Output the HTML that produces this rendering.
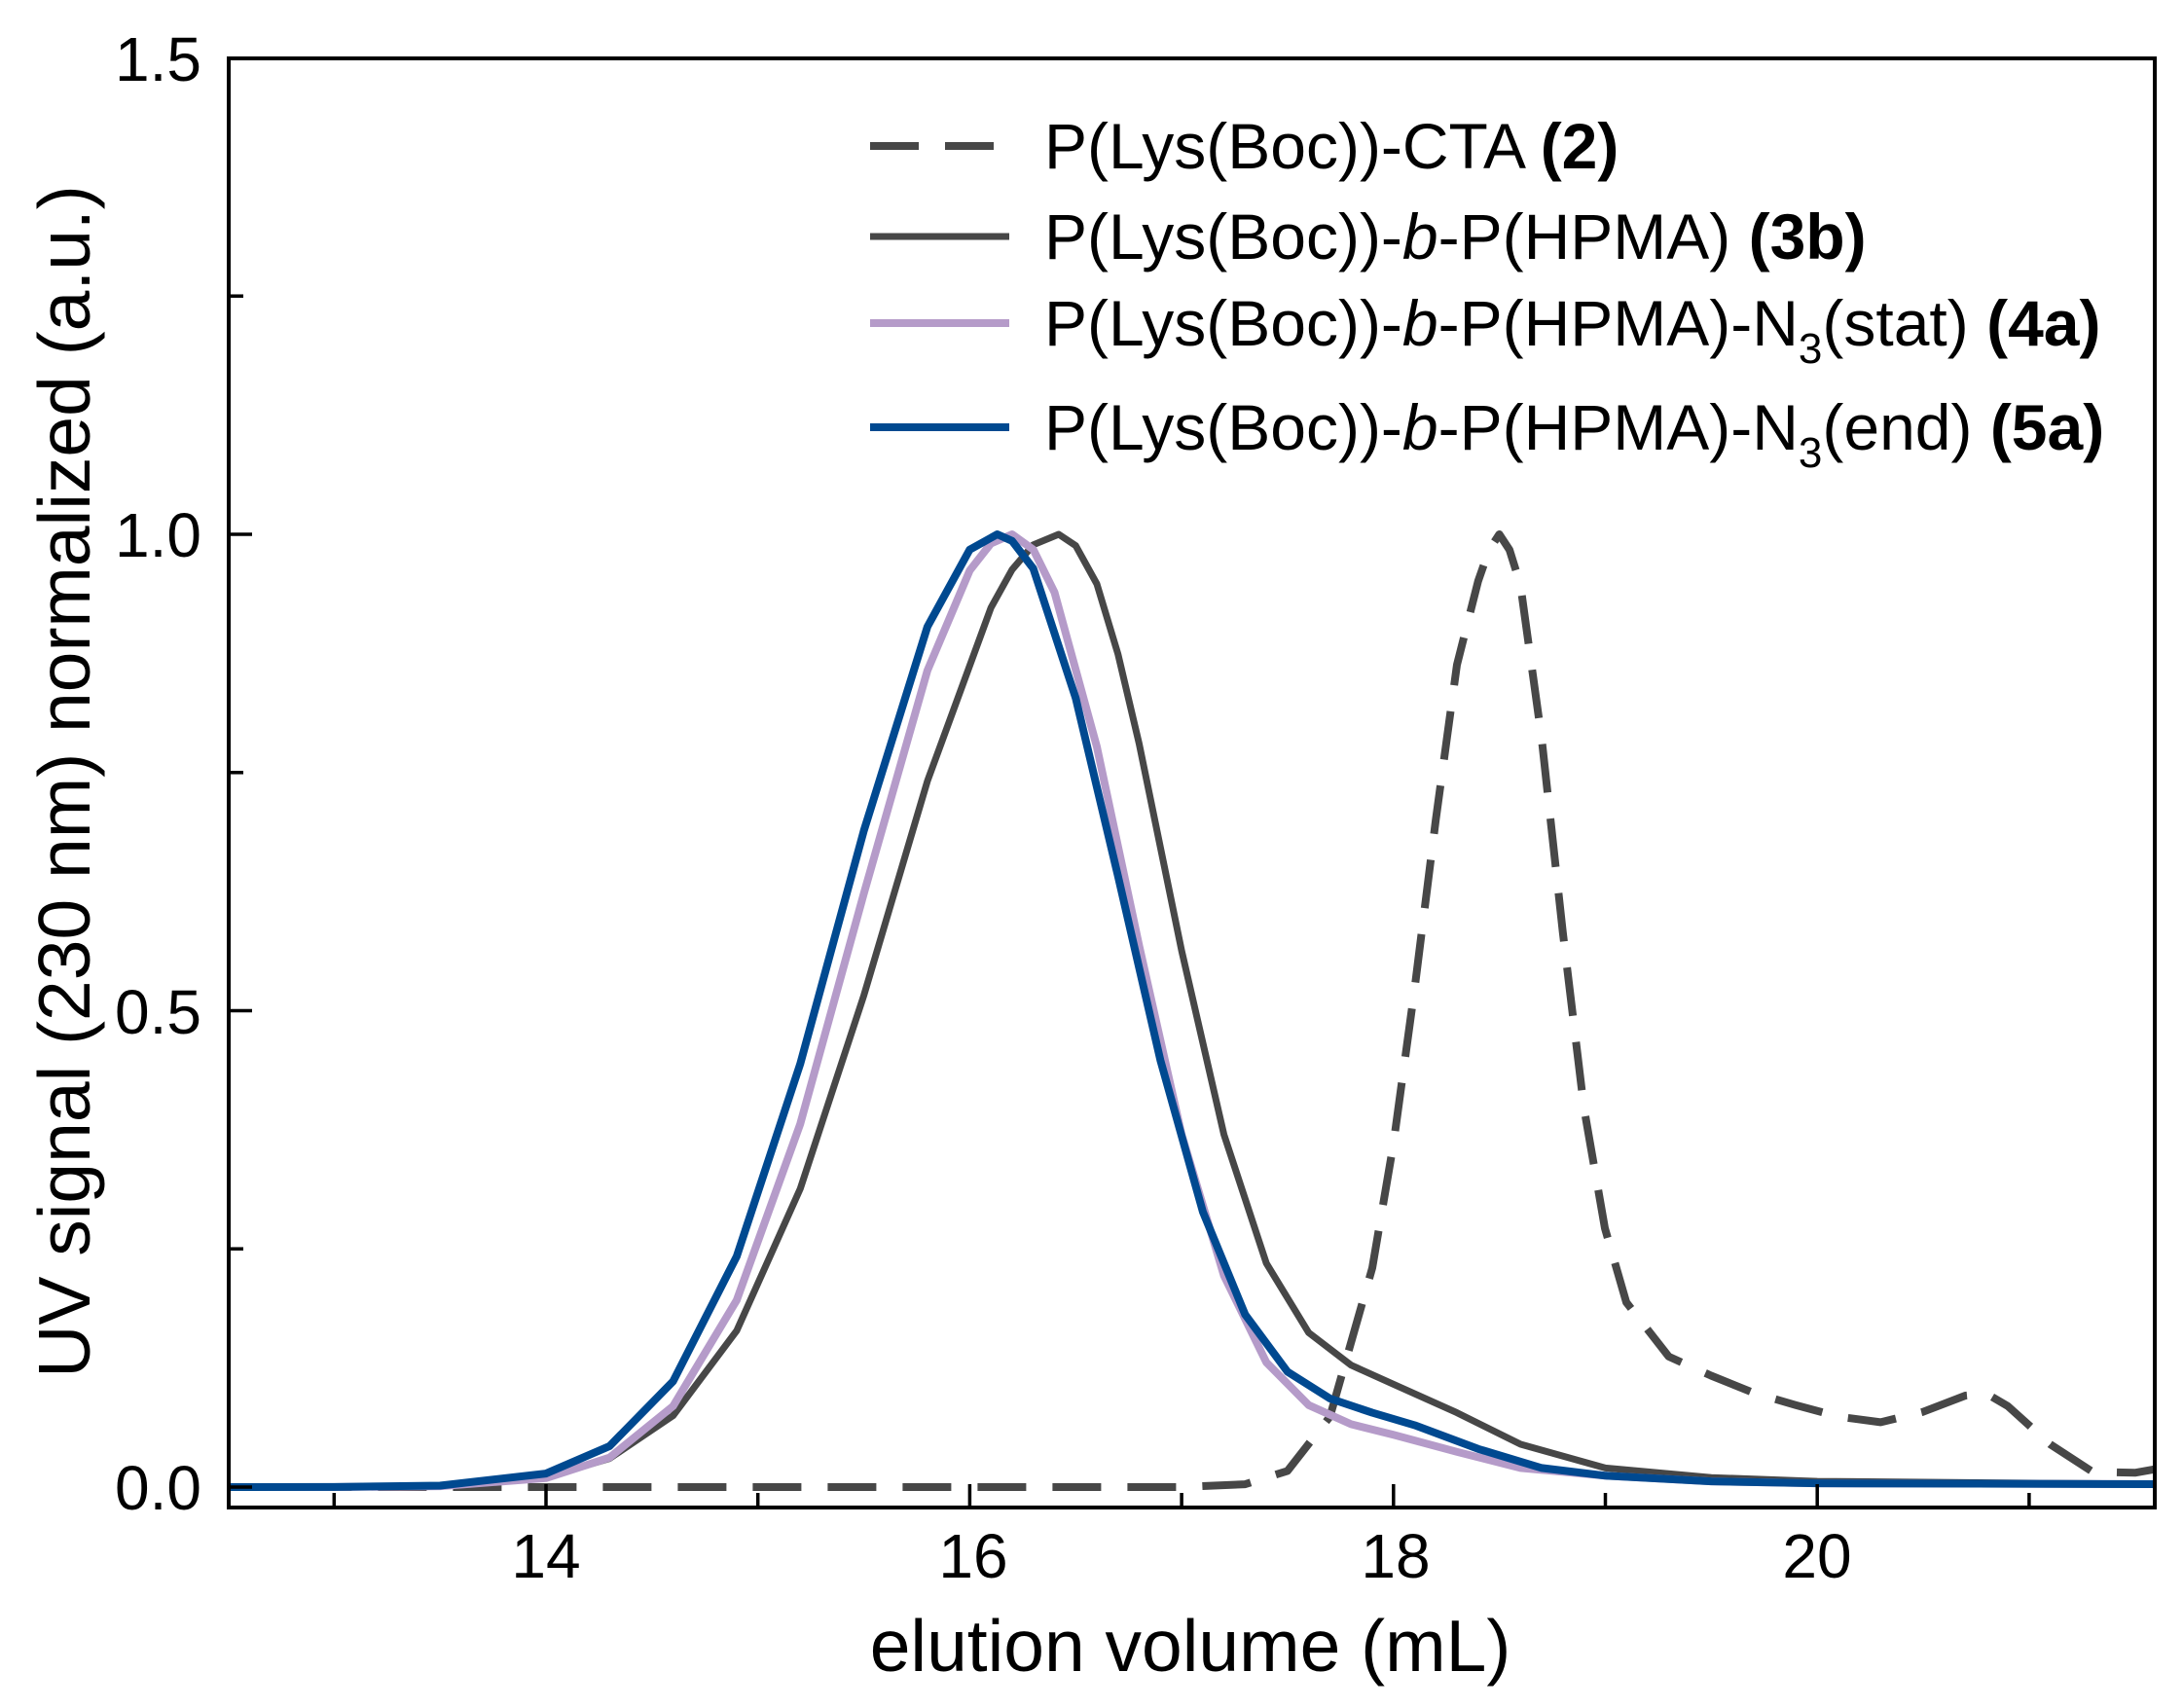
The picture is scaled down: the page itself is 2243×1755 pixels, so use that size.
<!DOCTYPE html>
<html><head><meta charset="utf-8"><style>
html,body{margin:0;padding:0;background:#fff;}
svg{display:block;font-family:"Liberation Sans",Arial,sans-serif;}
</style></head><body>
<svg width="2243" height="1755" viewBox="0 0 2243 1755" xmlns="http://www.w3.org/2000/svg">
<defs><clipPath id="c"><rect x="235" y="60" width="1979" height="1489"/></clipPath></defs>
<g clip-path="url(#c)" fill="none" stroke-linejoin="round" stroke-linecap="butt">
<polyline stroke="#474747" stroke-width="8" stroke-dasharray="50,27" points="234.4,1528 1214.1,1528 1279.4,1525.1 1322.9,1511.4 1366.5,1455.6 1410,1302.8 1431.7,1175.6 1453.5,1016 1475.2,842.7 1497,683.1 1518.8,597 1530,565 1540.5,549 1551,565 1562.2,600.9 1584,758.5 1605.8,958.2 1627.5,1138.4 1649,1262 1671,1338.1 1714.6,1393.9 1758.1,1413.5 1801.7,1431.1 1845.2,1443.8 1888.8,1455.6 1932.3,1461.4 1975.9,1450.7 2019.4,1434 2041.2,1432 2063,1444.8 2106.5,1484 2150,1512.3 2193.6,1513.3 2215.5,1509.4"/>
<polyline stroke="#474747" stroke-width="7" points="234.4,1528 343.3,1528 452.2,1526.7 561,1517.9 626.3,1498.6 691.6,1454.6 756.9,1367.4 822.2,1221.6 887.6,1022.8 952.9,802.6 1018.2,624.4 1039.9,585.3 1061.7,559.8 1087.8,549 1105.3,560.7 1127,600 1148.8,672.4 1170.5,764.4 1214.1,976.8 1257.6,1165.8 1301.1,1297.9 1344.7,1369.4 1388.2,1402.7 1431.7,1422.3 1497,1451.6 1562.4,1484 1649.5,1508.4 1758.3,1518.2 1867.2,1522.1 2215.5,1525"/>
<polyline stroke="#b59bc9" stroke-width="8" points="234.4,1528 343.3,1528 452.2,1527.1 561,1518.8 626.3,1497.7 691.6,1444.8 756.9,1336.1 822.2,1155 887.6,918.1 952.9,689 996.4,586.2 1018.2,558.4 1039.9,549 1061.7,564.7 1083.5,608.7 1127,767.3 1170.5,971.9 1214.1,1165.8 1257.6,1310.7 1301.1,1399.8 1344.7,1443.8 1388.2,1463.4 1431.7,1474.2 1497,1491.8 1562.4,1508.4 1649.5,1516.3 1758.3,1522.1 1867.2,1524.1 2215.5,1525"/>
<polyline stroke="#004990" stroke-width="8" points="234.4,1528 343.3,1527.9 452.2,1526.5 561,1514.1 626.3,1485.9 691.6,1419.3 756.9,1291.1 822.2,1093.3 887.6,853.5 952.9,644 996.4,564.7 1024.7,549 1039.9,555.8 1061.7,584.2 1105.3,717.4 1148.8,900.5 1192.3,1089.4 1235.9,1245.1 1279.4,1350.8 1322.9,1409.5 1366.5,1437 1410,1451.6 1453.5,1464.4 1518.8,1488.8 1584.1,1508.4 1649.5,1516.3 1758.3,1522.1 1867.2,1524.1 2215.5,1525"/>
</g>
<rect x="235" y="60" width="1979" height="1489" fill="none" stroke="#000" stroke-width="4"/>
<g stroke="#000" stroke-width="3.5">
<line x1="343.3" y1="1549" x2="343.3" y2="1534"/>
<line x1="561" y1="1549" x2="561" y2="1525"/>
<line x1="778.7" y1="1549" x2="778.7" y2="1534"/>
<line x1="996.4" y1="1549" x2="996.4" y2="1525"/>
<line x1="1214.1" y1="1549" x2="1214.1" y2="1534"/>
<line x1="1431.8" y1="1549" x2="1431.8" y2="1525"/>
<line x1="1649.5" y1="1549" x2="1649.5" y2="1534"/>
<line x1="1867.2" y1="1549" x2="1867.2" y2="1525"/>
<line x1="2084.9" y1="1549" x2="2084.9" y2="1534"/>
<line x1="235" y1="1528" x2="259" y2="1528"/>
<line x1="235" y1="1283.2" x2="250" y2="1283.2"/>
<line x1="235" y1="1038.5" x2="259" y2="1038.5"/>
<line x1="235" y1="793.8" x2="250" y2="793.8"/>
<line x1="235" y1="549" x2="259" y2="549"/>
<line x1="235" y1="304.2" x2="250" y2="304.2"/>
</g>
<g font-size="64" text-anchor="end" fill="#000">
<text x="207" y="1551">0.0</text>
<text x="207" y="1062">0.5</text>
<text x="207" y="572">1.0</text>
<text x="207" y="83">1.5</text>
</g>
<g font-size="64" text-anchor="middle" fill="#000">
<text x="561" y="1621">14</text>
<text x="1000" y="1621">16</text>
<text x="1434" y="1621">18</text>
<text x="1867" y="1621">20</text>
</g>
<text x="1223" y="1717" font-size="75" text-anchor="middle">elution volume (mL)</text>
<text transform="translate(92,803) rotate(-90)" font-size="75" text-anchor="middle">UV signal (230 nm) normalized (a.u.)</text>
<g font-size="66" fill="#000">
<line x1="894" y1="150" x2="1037" y2="150" stroke="#474747" stroke-width="8" stroke-dasharray="50,27"/>
<text x="1073" y="173">P(Lys(Boc))-CTA <tspan font-weight="bold">(2)</tspan></text>
<line x1="894" y1="243" x2="1037" y2="243" stroke="#474747" stroke-width="7"/>
<text x="1073" y="266">P(Lys(Boc))-<tspan font-style="italic">b</tspan>-P(HPMA) <tspan font-weight="bold">(3b)</tspan></text>
<line x1="894" y1="332" x2="1037" y2="332" stroke="#b59bc9" stroke-width="8"/>
<text x="1073" y="355">P(Lys(Boc))-<tspan font-style="italic">b</tspan>-P(HPMA)-N<tspan font-size="44" dy="18">3</tspan><tspan dy="-18">(stat) </tspan><tspan font-weight="bold">(4a)</tspan></text>
<line x1="894" y1="439" x2="1037" y2="439" stroke="#004990" stroke-width="8"/>
<text x="1073" y="462">P(Lys(Boc))-<tspan font-style="italic">b</tspan>-P(HPMA)-N<tspan font-size="44" dy="18">3</tspan><tspan dy="-18">(end) </tspan><tspan font-weight="bold">(5a)</tspan></text>
</g>
</svg>
</body></html>
